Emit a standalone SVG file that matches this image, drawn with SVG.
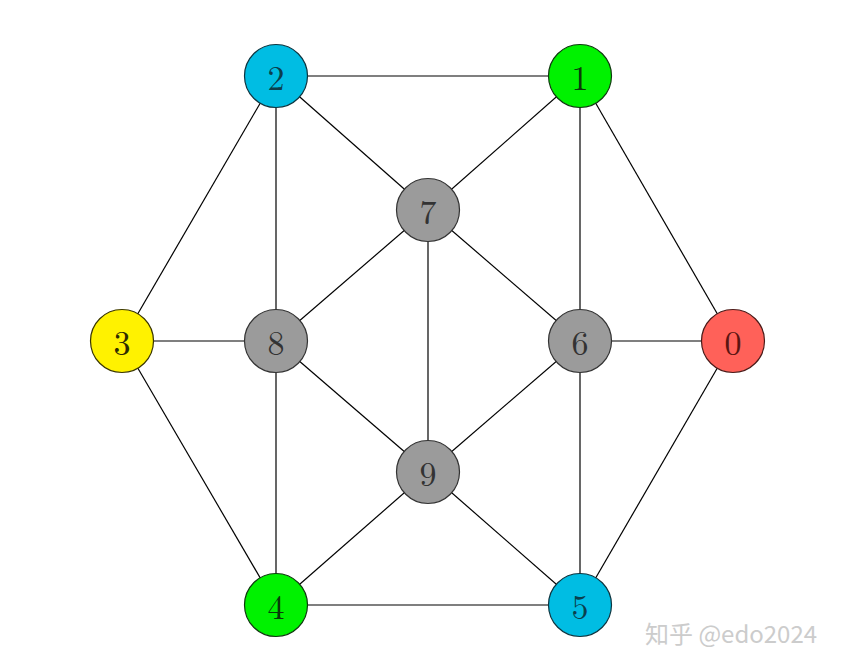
<svg xmlns="http://www.w3.org/2000/svg" width="846" height="668" viewBox="0 0 846 668">
<style>
.e{stroke:#000;stroke-width:1.2;fill:none}
.n circle{stroke-width:1.2}
.n text{font-family:"Latin Modern Roman","CMU Serif","DejaVu Serif","Liberation Serif",serif;font-size:34px;text-anchor:middle;dominant-baseline:central}
.wm{font-family:"Noto Sans CJK SC","Noto Sans",sans-serif;font-size:24px;fill:#cccccc}
</style>
<rect width="846" height="668" fill="#fff"/>
<g id="edges">
<line class="e" x1="276" y1="76" x2="580" y2="76"/>
<line class="e" x1="276" y1="76" x2="428" y2="210"/>
<line class="e" x1="580" y1="76" x2="428" y2="210"/>
<line class="e" x1="276" y1="76" x2="122" y2="341"/>
<line class="e" x1="276" y1="76" x2="276" y2="341"/>
<line class="e" x1="580" y1="76" x2="580" y2="341"/>
<line class="e" x1="580" y1="76" x2="733" y2="341"/>
<line class="e" x1="428" y1="210" x2="276" y2="341"/>
<line class="e" x1="428" y1="210" x2="428" y2="472"/>
<line class="e" x1="428" y1="210" x2="580" y2="341"/>
<line class="e" x1="122" y1="341" x2="276" y2="341"/>
<line class="e" x1="580" y1="341" x2="733" y2="341"/>
<line class="e" x1="276" y1="341" x2="428" y2="472"/>
<line class="e" x1="580" y1="341" x2="428" y2="472"/>
<line class="e" x1="122" y1="341" x2="276" y2="605"/>
<line class="e" x1="276" y1="341" x2="276" y2="605"/>
<line class="e" x1="580" y1="341" x2="580" y2="605"/>
<line class="e" x1="733" y1="341" x2="580" y2="605"/>
<line class="e" x1="428" y1="472" x2="276" y2="605"/>
<line class="e" x1="428" y1="472" x2="580" y2="605"/>
<line class="e" x1="276" y1="605" x2="580" y2="605"/>
</g>
<g id="node0" class="n"><circle cx="733" cy="341" r="31.5" fill="#ff6159" stroke="#4a1a18"/><text x="733" y="341" fill="#5a1512">0</text></g>
<g id="node1" class="n"><circle cx="580" cy="76" r="31.5" fill="#00f200" stroke="#0f3a0f"/><text x="580" y="76" fill="#0a3a0a">1</text></g>
<g id="node2" class="n"><circle cx="276" cy="76" r="31.5" fill="#00bde3" stroke="#0d3540"/><text x="276" y="76" fill="#0a3f4d">2</text></g>
<g id="node3" class="n"><circle cx="122" cy="341" r="31.5" fill="#fff200" stroke="#3a3600"/><text x="122" y="341" fill="#2e2b00">3</text></g>
<g id="node4" class="n"><circle cx="276" cy="605" r="31.5" fill="#00f200" stroke="#0f3a0f"/><text x="276" y="605" fill="#0a3a0a">4</text></g>
<g id="node5" class="n"><circle cx="580" cy="605" r="31.5" fill="#00bde3" stroke="#0d3540"/><text x="580" y="605" fill="#0a3f4d">5</text></g>
<g id="node6" class="n"><circle cx="580" cy="341" r="31.5" fill="#9b9b9b" stroke="#333"/><text x="580" y="341" fill="#333">6</text></g>
<g id="node7" class="n"><circle cx="428" cy="210" r="31.5" fill="#9b9b9b" stroke="#333"/><text x="428" y="210" fill="#333">7</text></g>
<g id="node8" class="n"><circle cx="276" cy="341" r="31.5" fill="#9b9b9b" stroke="#333"/><text x="276" y="341" fill="#333">8</text></g>
<g id="node9" class="n"><circle cx="428" cy="472" r="31.5" fill="#9b9b9b" stroke="#333"/><text x="428" y="472" fill="#333">9</text></g>
<text class="wm" x="645" y="643">知乎 @edo2024</text>
</svg>
